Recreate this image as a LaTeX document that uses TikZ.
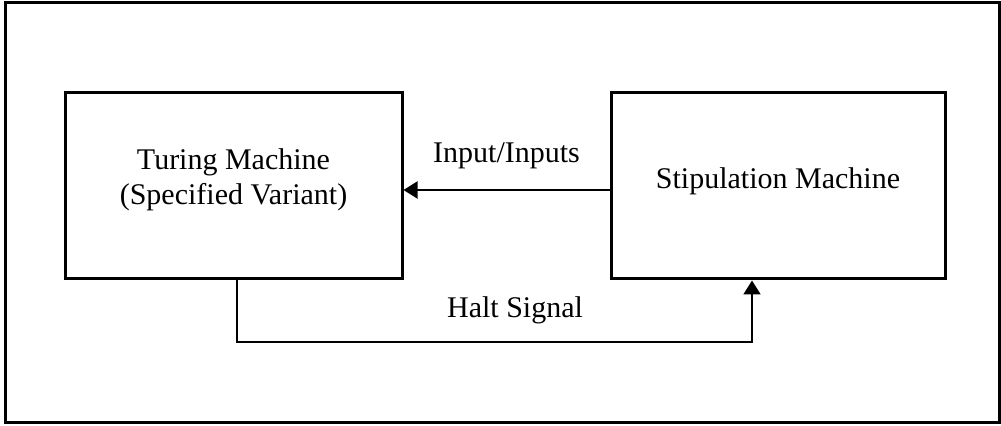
\documentclass[tikz,border=0pt]{standalone}
\usepackage{fontspec}
\setmainfont{Liberation Serif}
\usetikzlibrary{arrows.meta}
\tikzset{
    machine/.style={draw=black, line width=1.5pt, rectangle, align=center, inner sep=0pt,
        font=\fontsize{15}{17.5}\selectfont},
    conn/.style={draw=black, line width=1pt},
    lbl/.style={anchor=base, inner sep=0pt, font=\fontsize{15}{17.5}\selectfont}
}

\begin{document}
\begin{tikzpicture}[x=0.5pt, y=-0.5pt]
        \useasboundingbox (0,0) rectangle (1001,426);
        \draw[black, line width=1.5pt] (5,3) rectangle (999,423);
        \node[machine, minimum width=168.5pt, minimum height=93pt] (tm) at (233.5,186) {Turing Machine\\(Specified Variant)\\[-8pt]};
        \node[machine, minimum width=167pt, minimum height=93pt] (sm) at (778,186) {Stipulation Machine\\[-10pt]};
        \draw[conn, -{Triangle[width=8.5pt, length=7pt]}] ([yshift=-2pt]sm.west) -- ([yshift=-2pt]tm.east);
        \node[lbl] (inp) at (506.5,163) {Input/Inputs};
        \draw[conn, -{Triangle[width=8.5pt, length=7pt]}] ([xshift=1.75pt]tm.south) -- ++(0,62) -| ([xshift=-13pt]sm.south);
        \node[lbl] (halt) at (515,318) {Halt Signal};
    \end{tikzpicture}
\end{document}
